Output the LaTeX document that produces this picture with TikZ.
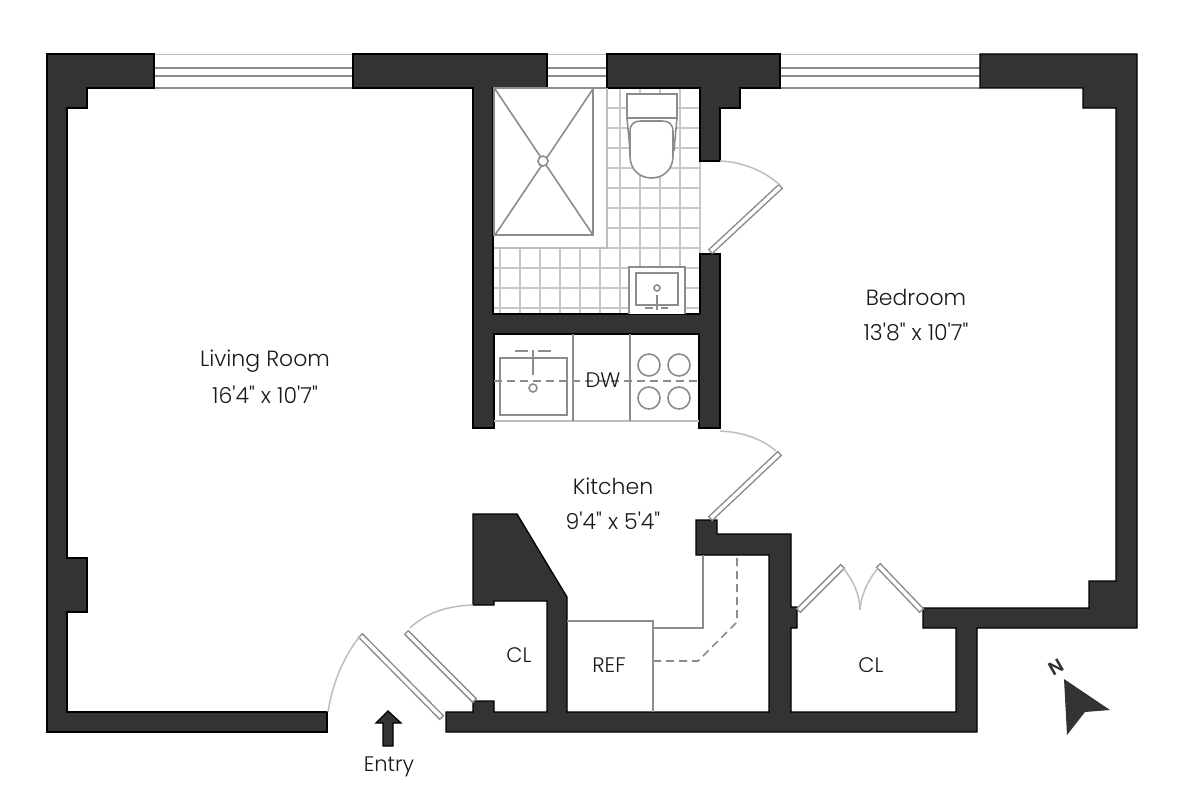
\documentclass[tikz,border=0pt]{standalone}
\usepackage{fontspec}
\newfontfamily\planfont{Poppins Light}
\newfontfamily\planbold{Poppins}[BoldFont={* SemiBold}]
\definecolor{wallgray}{HTML}{333333}
\definecolor{fixgray}{HTML}{8C8C8C}
\definecolor{tilegray}{HTML}{C8C8C8}
\definecolor{swinggray}{HTML}{BDBDBD}
\tikzset{
  wall/.style={draw=black, line width=1.3pt, fill=wallgray, line join=miter},
  fixture/.style={draw=fixgray, line width=1.6pt},
  fixdash/.style={fixture, dash pattern=on 8pt off 5pt},
  tile/.style={draw=tilegray, line width=1.5pt},
  swing/.style={draw=swinggray, line width=1.5pt},
  leafedge/.style={draw=fixgray, line width=6.5pt},
  leafcore/.style={draw=white, line width=3.5pt, shorten >=1.5pt, shorten <=1.5pt},
  roomlabel/.style={font=\planfont\fontsize{22}{26}\selectfont, text=black!90},
  smalllabel/.style={font=\planfont\fontsize{21}{25}\selectfont, text=black!90}
}
\newcommand{\doorleaf}[2]{
  \draw[leafedge] #1 -- #2;
  \draw[leafcore] #1 -- #2;
}
\begin{document}
\begin{tikzpicture}[x=1pt, y=-1pt]
  \useasboundingbox (0,0) rectangle (1200,800);

  % bathroom floor
  \begin{scope}
    \clip (607,88) -- (701,88) -- (701,314) -- (494,314) -- (494,248) -- (607,248) -- cycle;
    \foreach \x in {500,520,...,700}
      \draw[tile] (\x,88) -- (\x,314);
    \foreach \y in {108,128,...,308}
      \draw[tile] (494,\y) -- (701,\y);
  \end{scope}

  % windows
  \foreach \xa/\xb in {154/353,547/607,780/980} {
    \draw[fixture, swinggray] (\xa,54.5) -- (\xb,54.5);
    \draw[fixture] (\xa,68) -- (\xb,68);
    \draw[fixture] (\xa,76) -- (\xb,76);
    \draw[fixture] (\xa,88) -- (\xb,88);
  }

  % walls
  \draw[wall] (47,54) -- (154,54) -- (154,88) -- (87,88) -- (87,108) -- (67,108) -- (67,558)
    -- (87,558) -- (87,612) -- (67,612) -- (67,712) -- (327,712) -- (327,732) -- (47,732) -- cycle;
  \draw[wall] (353,54) -- (547,54) -- (547,88) -- (493,88) -- (493,314) -- (700,314) -- (700,254)
    -- (720,254) -- (720,428) -- (699,428) -- (699,334) -- (494,334) -- (494,428) -- (473,428)
    -- (473,88) -- (353,88) -- cycle;
  \draw[wall] (607,54) -- (780,54) -- (780,88) -- (740,88) -- (740,108) -- (720,108) -- (720,161)
    -- (700,161) -- (700,88) -- (607,88) -- cycle;
  \draw[wall] (980,54) -- (1137,54) -- (1137,628) -- (977,628) -- (977,732) -- (446,732) -- (446,712)
    -- (473,712) -- (473,701) -- (494,701) -- (494,712) -- (547,712) -- (547,601) -- (494,601)
    -- (494,605) -- (473,605) -- (473,514) -- (517,514) -- (567,597) -- (567,712) -- (769,712)
    -- (769,555) -- (696,555) -- (696,520) -- (717,520) -- (717,534) -- (791,534) -- (791,607)
    -- (797,607) -- (797,628) -- (791,628) -- (791,712) -- (956,712) -- (956,628) -- (923,628)
    -- (923,608) -- (1089,608) -- (1089,581) -- (1116,581) -- (1116,108) -- (1083,108) -- (1083,88)
    -- (980,88) -- cycle;

  % shower
  \draw[fixture, swinggray] (607,88) -- (607,248) -- (494,248);
  \draw[fixture] (494,88) rectangle (593,235);
  \draw[fixture] (495,89) -- (593,235);
  \draw[fixture] (593,89) -- (495,235);
  \draw[fixture, fill=white] (543,161) circle (5);

  % toilet
  \draw[fixture, fill=white] (627,94) rectangle (677,118);
  \draw[fixture, fill=white] (627,118) -- (630,150) -- (674,150) -- (677,118) -- cycle;
  \draw[fixture, fill=white] (630,132) .. controls (630,124) and (634,121) .. (641,121) -- (662,121)
    .. controls (669,121) and (673,124) .. (673,132) -- (673,156)
    .. controls (673,170) and (663,178) .. (651.5,178) .. controls (640,178) and (630,170) .. (630,156) -- cycle;

  % bathroom sink
  \draw[fixture, fill=white] (629,314) -- (629,267) -- (685,267) -- (685,314);
  \draw[fixture] (636,273) rectangle (678,305);
  \draw[fixture] (657,288) circle (3);
  \draw[fixture] (657,295) -- (657,310);
  \draw[fixture] (645,308) -- (653,308);
  \draw[fixture] (661,308) -- (668,308);

  % kitchen counter
  \draw[fixture, swinggray] (494,421) -- (699,421);
  \draw[fixture] (573,334) -- (573,421);
  \draw[fixture] (630,334) -- (630,421);
  \draw[fixture] (500,358) rectangle (567,415);
  \draw[fixture] (533,388) circle (4);
  \draw[fixture] (533,350) -- (533,375);
  \draw[fixture] (515,351) -- (528,351);
  \draw[fixture] (538,351) -- (551,351);
  \draw[fixdash] (494,381) -- (699,381);
  \foreach \x/\y in {649/365,679/365,649/398,679/398}
    \draw[fixture] (\x,\y) circle (11);

  % fridge and lower counter
  \draw[fixture] (567,621) -- (653,621) -- (653,712);
  \draw[fixture] (653,628) -- (703,628) -- (703,555);
  \draw[fixdash] (653,661) -- (698,661) -- (737,622) -- (737,555);

  % doors
  \doorleaf{(360,635)}{(442,718)}
  \doorleaf{(406,632)}{(475,701)}
  \doorleaf{(710,252)}{(781,186)}
  \doorleaf{(710,519)}{(780,453)}
  \doorleaf{(798,611)}{(843,566)}
  \doorleaf{(922,611)}{(878,565)}
  \draw[swing] (328,712) .. controls (333,680) and (345,655) .. (360,636);
  \draw[swing] (473,605) .. controls (448,606) and (427,612) .. (410,628);
  \draw[swing] (720,161) .. controls (742,162) and (763,170) .. (780,185);
  \draw[swing] (720,431) .. controls (741,432) and (761,438) .. (776,451);
  \draw[swing] (843,568) .. controls (853,580) and (860,595) .. (860,610);
  \draw[swing] (878,568) .. controls (868,580) and (861,595) .. (860,610);

  % entry arrow
  \draw[wall] (388,711) -- (401,723) -- (393,723) -- (393,746) -- (383,746) -- (383,723) -- (376,723) -- cycle;

  % north arrow
  \fill[wallgray] (1064,679) -- (1110,710) -- (1085,712) -- (1067,735) -- cycle;
  \node[rotate=30, text=wallgray, font=\planbold\bfseries\fontsize{19}{19}\selectfont] (north) at (1056,667) {N};

  % labels
  \node[roomlabel] (living) at (265,361) {Living Room};
  \node[roomlabel] (livingsize) at (265,395) {16'4" x 10'7"};
  \node[roomlabel] (bedroom) at (916,297) {Bedroom};
  \node[roomlabel] (bedroomsize) at (916,332) {13'8" x 10'7"};
  \node[roomlabel] (kitchen) at (613,486) {Kitchen};
  \node[roomlabel] (kitchensize) at (613,521) {9'4" x 5'4"};
  \node[smalllabel] (dw) at (603,380) {DW};
  \node[smalllabel] (closeta) at (519,655) {CL};
  \node[smalllabel] (ref) at (609,665) {REF};
  \node[smalllabel] (closetb) at (871,665) {CL};
  \node[smalllabel] (entry) at (389,767) {Entry};
\end{tikzpicture}
\end{document}
